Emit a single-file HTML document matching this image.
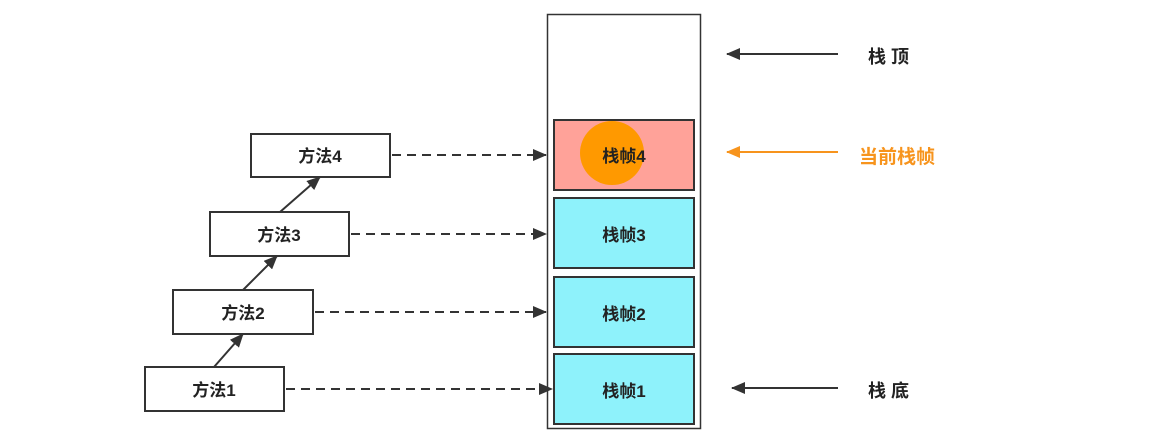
<!DOCTYPE html>
<html><head><meta charset="utf-8">
<style>
html,body{margin:0;padding:0;background:#fff;}
svg text{font-family:"Liberation Sans","Noto Sans CJK SC",sans-serif;font-size:17px;font-weight:bold;fill:#222;}
</style></head>
<body>
<svg width="1154" height="441" viewBox="0 0 1154 441" xmlns="http://www.w3.org/2000/svg">
<defs>
<marker id="ahb" markerWidth="14" markerHeight="12" refX="13" refY="6" orient="auto" markerUnits="userSpaceOnUse">
<path d="M0,0 L14,6 L0,12 z" fill="#333"/>
</marker>
<marker id="aho" markerWidth="14" markerHeight="12" refX="13" refY="6" orient="auto" markerUnits="userSpaceOnUse">
<path d="M0,0 L14,6 L0,12 z" fill="#f7941d"/>
</marker>
</defs>
<rect x="547.5" y="14.5" width="153" height="414" fill="#fff" stroke="#333" stroke-width="1.5"/>
<rect x="554" y="120" width="140" height="70" fill="#ffa299" stroke="#333" stroke-width="2"/>
<rect x="554" y="198" width="140" height="70" fill="#8ef2fb" stroke="#333" stroke-width="2"/>
<rect x="554" y="277" width="140" height="70" fill="#8ef2fb" stroke="#333" stroke-width="2"/>
<rect x="554" y="354" width="140" height="70" fill="#8ef2fb" stroke="#333" stroke-width="2"/>
<circle cx="612" cy="153" r="32" fill="#ff9900"/>
<text x="624" y="162" text-anchor="middle">栈帧4</text>
<text x="624" y="241" text-anchor="middle">栈帧3</text>
<text x="624" y="320" text-anchor="middle">栈帧2</text>
<text x="624" y="397" text-anchor="middle">栈帧1</text>
<rect x="251" y="134" width="139" height="43" fill="#fff" stroke="#333" stroke-width="2"/>
<rect x="210" y="212" width="139" height="44" fill="#fff" stroke="#333" stroke-width="2"/>
<rect x="173" y="290" width="140" height="44" fill="#fff" stroke="#333" stroke-width="2"/>
<rect x="145" y="367" width="139" height="44" fill="#fff" stroke="#333" stroke-width="2"/>
<text x="320" y="162" text-anchor="middle">方法4</text>
<text x="279" y="241" text-anchor="middle">方法3</text>
<text x="243" y="319" text-anchor="middle">方法2</text>
<text x="214" y="396" text-anchor="middle">方法1</text>
<g stroke="#333" stroke-width="2">
<line x1="214" y1="367" x2="243" y2="334" marker-end="url(#ahb)"/>
<line x1="243" y1="290" x2="277" y2="256" marker-end="url(#ahb)"/>
<line x1="280" y1="212" x2="320" y2="177" marker-end="url(#ahb)"/>
</g>
<g stroke="#333" stroke-width="2" stroke-dasharray="9,6">
<line x1="392" y1="155" x2="546" y2="155" marker-end="url(#ahb)"/>
<line x1="351" y1="234" x2="546" y2="234" marker-end="url(#ahb)"/>
<line x1="315" y1="312" x2="546" y2="312" marker-end="url(#ahb)"/>
<line x1="286" y1="389" x2="552" y2="389" marker-end="url(#ahb)"/>
</g>
<line x1="838" y1="54" x2="727" y2="54" stroke="#333" stroke-width="2" marker-end="url(#ahb)"/>
<line x1="838" y1="152" x2="727" y2="152" stroke="#f7941d" stroke-width="2" marker-end="url(#aho)"/>
<line x1="838" y1="388" x2="732" y2="388" stroke="#333" stroke-width="2" marker-end="url(#ahb)"/>
<text x="868" y="63" style="font-size:18px">栈 顶</text>
<text x="859" y="163" style="font-size:19px;fill:#f7941d">当前栈帧</text>
<text x="868" y="397" style="font-size:18px">栈 底</text>
</svg>
</body></html>
